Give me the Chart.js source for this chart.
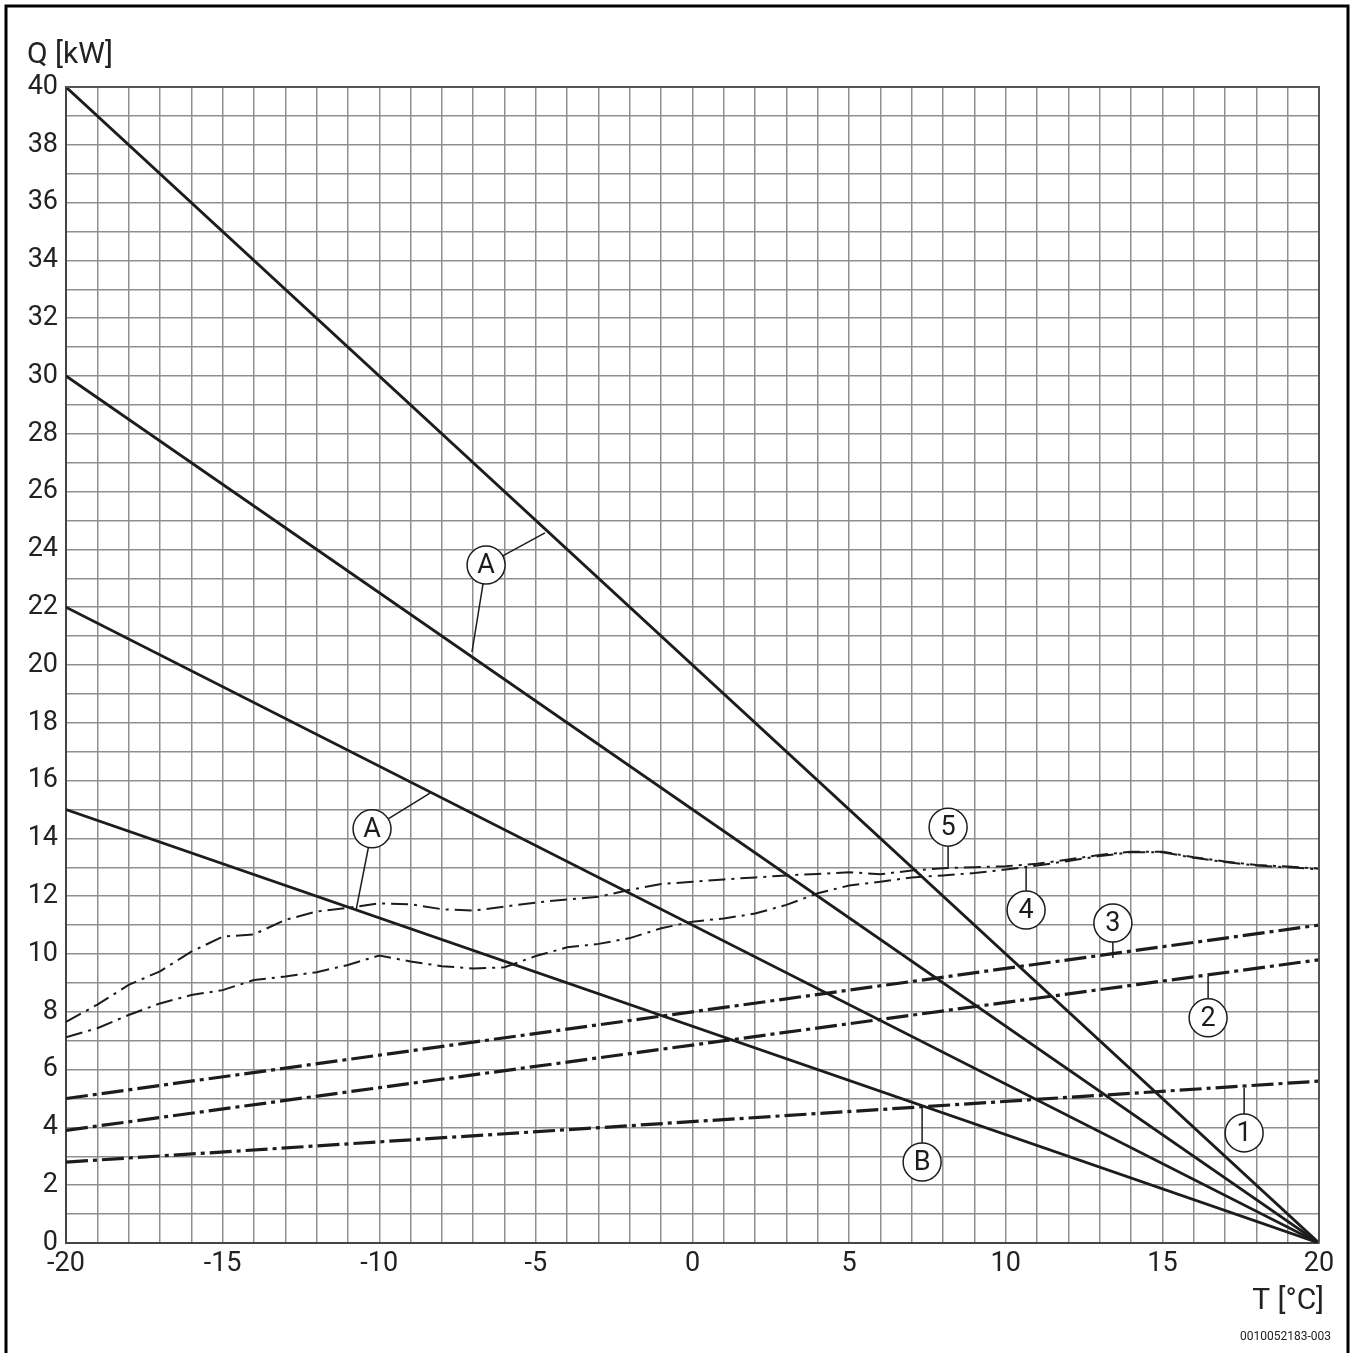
<!DOCTYPE html>
<html>
<head>
<meta charset="utf-8">
<script src="https://cdn.jsdelivr.net/npm/chart.js@4.4.1/dist/chart.umd.min.js"></script>
<style>
  html, body { margin: 0; padding: 0; background: #fff; }
  #wrap { width: 1354px; height: 1353px; }
</style>
</head>
<body>
<div id="wrap"><canvas id="heatChart" width="1354" height="1353"></canvas></div>
<script>
// outside temperature steps for the two measured curves
const tempX = [-20, -19, -18, -17, -16, -15, -14, -13, -12, -11, -10, -9, -8, -7, -6, -5, -4, -3, -2, -1,
    0, 1, 2, 3, 4, 5, 6, 7, 8, 9, 10, 11, 12, 13, 14, 15, 16, 17, 18, 19, 20];
const curve4 = [7.12, 7.43, 7.89, 8.29, 8.58, 8.75, 9.1, 9.22, 9.37, 9.62, 9.95, 9.74, 9.58, 9.5, 9.54, 9.93, 10.23, 10.35, 10.55, 10.89,
    11.12, 11.23, 11.4, 11.7, 12.1, 12.37, 12.5, 12.65, 12.72, 12.8, 12.92, 13.06, 13.22, 13.39, 13.52, 13.52, 13.33, 13.18, 13.06, 13.0, 12.93];
const curve5 = [7.65, 8.25, 8.93, 9.4, 10.08, 10.6, 10.68, 11.18, 11.47, 11.6, 11.75, 11.72, 11.55, 11.5, 11.64, 11.78, 11.89, 11.98, 12.22, 12.42,
    12.5, 12.58, 12.65, 12.72, 12.77, 12.83, 12.76, 12.89, 12.97, 13.0, 13.04, 13.12, 13.27, 13.43, 13.54, 13.54, 13.35, 13.2, 13.08, 13.03, 12.95];

// straight lines, values at -20 and at +20
const endX = [-20, 20];
const line1 = [2.8, 5.6];
const line2 = [3.9, 9.8];
const line3 = [5.0, 11.0];
const heatLoads = [[40, 0], [30, 0], [22, 0], [15, 0]];

const xTickLabels = [-20, -15, -10, -5, 0, 5, 10, 15, 20];
const yTickLabels = [0, 2, 4, 6, 8, 10, 12, 14, 16, 18, 20, 22, 24, 26, 28, 30, 32, 34, 36, 38, 40];

// callouts: circle centre and leader end points, in data units
const callouts = [
    { text: "A", x: -6.59, y: 23.46, to: [[-4.71, 24.57], [-7.04, 20.45]] },
    { text: "A", x: -10.23, y: 14.33, to: [[-8.38, 15.57], [-10.74, 11.52]] },
    { text: "5", x: 8.16, y: 14.39, to: [[8.16, 13.01]] },
    { text: "4", x: 10.65, y: 11.52, to: [[10.65, 13.04]] },
    { text: "3", x: 13.42, y: 11.07, to: [[13.42, 9.86]] },
    { text: "2", x: 16.46, y: 7.79, to: [[16.46, 9.24]] },
    { text: "1", x: 17.61, y: 3.81, to: [[17.61, 5.36]] },
    { text: "B", x: 7.33, y: 2.80, to: [[7.33, 4.71]] }
];

const FONT = "Roboto, 'Liberation Sans', sans-serif";
const INK = "#1c1c1c";

function pts(xs, ys) {
    return xs.map((x, i) => ({ x: x, y: ys[i] }));
}

const datasets = [];
heatLoads.forEach(h => {
    datasets.push({ data: pts(endX, h), borderColor: INK, borderWidth: 2.8 });
});
[line1, line2, line3].forEach(l => {
    datasets.push({ data: pts(endX, l), borderColor: INK, borderWidth: 3.2, borderDash: [22, 5, 4, 5] });
});
[curve4, curve5].forEach(c => {
    datasets.push({ data: pts(tempX, c), borderColor: INK, borderWidth: 2, borderDash: [17, 6, 3, 6] });
});
datasets.forEach(d => {
    d.showLine = true;
    d.pointRadius = 0;
    d.fill = false;
    d.tension = 0;
});

const extras = {
    id: "extras",
    afterDatasetsDraw(chart) {
        const ctx = chart.ctx;
        const xs = chart.scales.x, ys = chart.scales.y;
        const area = chart.chartArea;
        ctx.save();
        // top and right edge of plot
        ctx.strokeStyle = "#555";
        ctx.lineWidth = 2;
        ctx.beginPath();
        ctx.moveTo(area.left, area.top);
        ctx.lineTo(area.right, area.top);
        ctx.lineTo(area.right, area.bottom);
        ctx.stroke();

        const r = 19;
        callouts.forEach(c => {
            const cx = xs.getPixelForValue(c.x), cy = ys.getPixelForValue(c.y);
            ctx.strokeStyle = INK;
            ctx.lineWidth = 1.5;
            c.to.forEach(p => {
                const ex = xs.getPixelForValue(p[0]), ey = ys.getPixelForValue(p[1]);
                const len = Math.hypot(ex - cx, ey - cy);
                ctx.beginPath();
                ctx.moveTo(cx + (ex - cx) / len * r, cy + (ey - cy) / len * r);
                ctx.lineTo(ex, ey);
                ctx.stroke();
            });
            ctx.beginPath();
            ctx.arc(cx, cy, r, 0, Math.PI * 2);
            ctx.fillStyle = "#fff";
            ctx.fill();
            ctx.stroke();
            ctx.fillStyle = INK;
            ctx.font = "27px " + FONT;
            ctx.textAlign = "center";
            ctx.textBaseline = "middle";
            ctx.fillText(c.text, cx, cy + 1);
        });
        ctx.restore();
    },
    afterDraw(chart) {
        const ctx = chart.ctx;
        ctx.save();
        // outer frame
        ctx.strokeStyle = "#000";
        ctx.lineWidth = 3;
        ctx.beginPath();
        ctx.moveTo(6, 1360);
        ctx.lineTo(6, 6);
        ctx.lineTo(1348, 6);
        ctx.lineTo(1348, 1360);
        ctx.stroke();

        ctx.fillStyle = "#222";
        ctx.font = "30px " + FONT;
        ctx.textAlign = "left";
        ctx.textBaseline = "alphabetic";
        ctx.fillText("Q [kW]", 27, 63);
        ctx.textAlign = "right";
        ctx.fillText("T [\u00B0C]", 1324, 1309);
        ctx.font = "12px " + FONT;
        ctx.fillText("0010052183-003", 1331, 1340);
        ctx.restore();
    }
};

new Chart(document.getElementById("heatChart"), {
    type: "scatter",
    data: { datasets: datasets },
    options: {
        responsive: false,
        animation: false,
        layout: { padding: { left: 0, right: 35, top: 87, bottom: 70 } },
        plugins: { legend: { display: false }, tooltip: { enabled: false } },
        scales: {
            x: {
                type: "linear",
                min: -20,
                max: 20,
                afterFit: s => { s.height = 40; },
                ticks: {
                    stepSize: 1,
                    autoSkip: false,
                    maxRotation: 0,
                    padding: 5,
                    color: "#222",
                    font: { family: FONT, size: 27 },
                    callback: v => xTickLabels.includes(v) ? String(v) : ""
                },
                grid: { color: "#8f8f8f", lineWidth: 1.5, drawTicks: false },
                border: { display: true, color: "#444", width: 2 }
            },
            y: {
                type: "linear",
                min: 0,
                max: 40,
                afterFit: s => { s.width = 66; },
                ticks: {
                    stepSize: 1,
                    autoSkip: false,
                    padding: 8,
                    color: "#222",
                    font: { family: FONT, size: 27 },
                    callback: v => yTickLabels.includes(v) ? String(v) : ""
                },
                grid: { color: "#8f8f8f", lineWidth: 1.5, drawTicks: false },
                border: { display: true, color: "#444", width: 2 }
            }
        }
    },
    plugins: [extras]
});
</script>
</body>
</html>
